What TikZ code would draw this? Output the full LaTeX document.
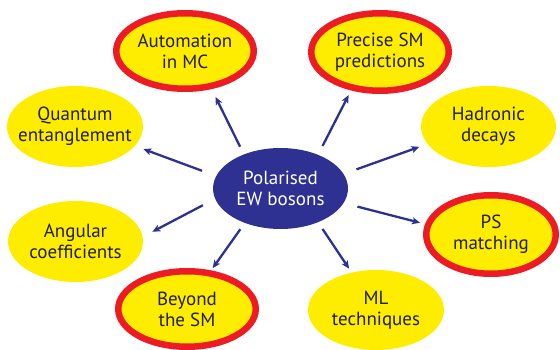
\documentclass[tikz,border=0pt]{standalone}
\usepackage{fontspec}
\setsansfont{PT Sans}
\usetikzlibrary{shapes.geometric,arrows.meta}
\definecolor{yel}{HTML}{FFED00}
\definecolor{redb}{HTML}{ED1C24}
\definecolor{blu}{HTML}{2E3192}
\definecolor{txt}{HTML}{231F20}
\begin{document}
\begin{tikzpicture}[x=1pt,y=-1pt,
  base/.style={ellipse,inner xsep=-20pt,inner ysep=0pt,align=center,
    font=\sffamily\fontsize{19}{21}\selectfont},
  topic/.style={base,fill=yel,text=txt},
  hot/.style={topic,draw=redb,line width=6.5pt},
  hub/.style={base,fill=blu,text=white},
  arr/.style={draw=blu,line width=2.3pt,-{Stealth[length=8pt,width=7pt,inset=2pt]}}]
\useasboundingbox (0,0) rectangle (560,350);
\node[hub,minimum width=135pt,minimum height=81pt] (c) at (280.5,188.5) {Polarised\\EW bosons};
\node[hot,minimum width=137.5pt,minimum height=75.5pt] (auto) at (185,51) {Automation\\in MC};
\node[hot,minimum width=137.5pt,minimum height=77.5pt] (prec) at (380,52) {Precise SM\\predictions};
\node[topic,minimum width=136pt,minimum height=81pt] (quant) at (75,126.5) {Quantum\\entanglement};
\node[topic,minimum width=135pt,minimum height=81pt] (hadr) at (488.5,126.5) {Hadronic\\decays};
\node[topic,minimum width=135pt,minimum height=81pt] (ang) at (75.5,241.5) {Angular\\coefficients};
\node[hot,minimum width=129.5pt,minimum height=78.5pt] (ps) at (491,234.5) {PS\\matching};
\node[hot,minimum width=137.5pt,minimum height=75.5pt] (bey) at (187,309) {Beyond\\the SM};
\node[topic,minimum width=136pt,minimum height=80pt] (ml) at (376,310) {ML\\techniques};
\draw[arr,shorten <=8.4pt,shorten >=8.7pt] (c.137.2) -- (auto.-55.7);
\draw[arr,shorten <=15pt,shorten >=9pt] (c.169.2) -- (quant.-18);
\draw[arr,shorten <=9.8pt,shorten >=5.2pt] (c.42.4) -- (prec.-127.6);
\draw[arr,shorten <=13.5pt,shorten >=8.5pt] (c.13.3) -- (hadr.-164.9);
\draw[arr,shorten <=13.7pt,shorten >=10.8pt] (c.-171) -- (ang.4.8);
\draw[arr,shorten <=7.6pt,shorten >=2.7pt] (c.-136.5) -- (bey.58.9);
\draw[arr,shorten <=14.2pt,shorten >=5.2pt] (c.-13.5) -- (ps.171.2);
\draw[arr,shorten <=8pt,shorten >=4.5pt] (c.-42.5) -- (ml.123.3);
\end{tikzpicture}
\end{document}
